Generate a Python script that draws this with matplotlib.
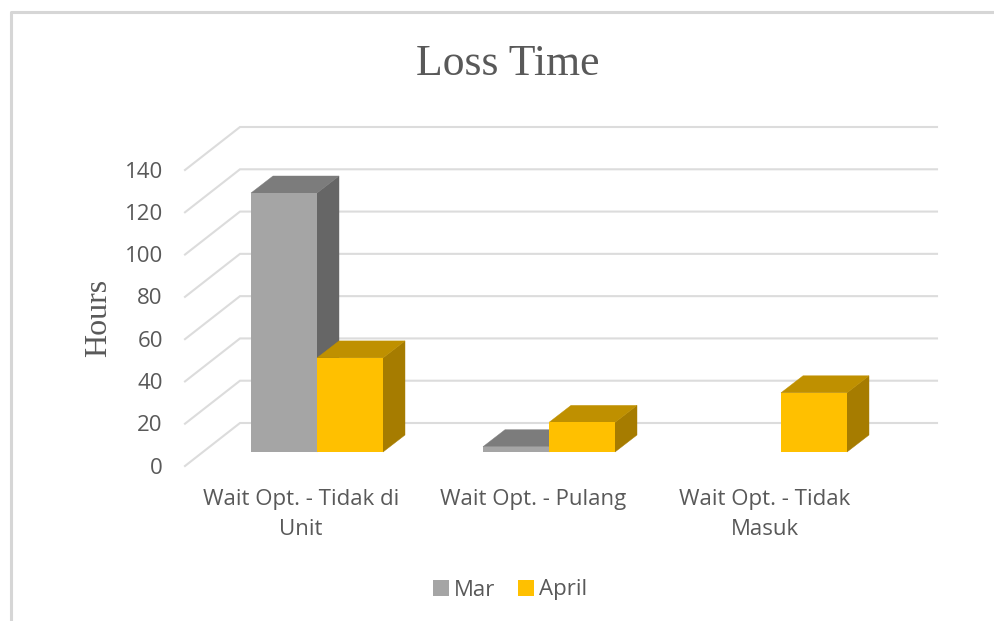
import matplotlib
matplotlib.use("Agg")
import matplotlib.pyplot as plt
from matplotlib.patches import Polygon, Patch
from matplotlib.lines import Line2D
from matplotlib.transforms import ScaledTranslation

categories = ["Wait Opt. - Tidak di\nUnit", "Wait Opt. - Pulang", "Wait Opt. - Tidak\nMasuk"]
mar = [122.5, 2.5, 0]
april = [44.5, 14, 28]
value_ticks = [0, 20, 40, 60, 80, 100, 120, 140]

W, H = 995, 621
GREY = "#595959"
fig = plt.figure(figsize=(W / 100, H / 100), dpi=100, facecolor="white")

def px_axes(left, right, top, bottom):
    a = fig.add_axes([left / W, 1 - bottom / H, (right - left) / W, (bottom - top) / H])
    a.patch.set_alpha(0)
    for s in a.spines.values():
        s.set_visible(False)
    return a

# value axis: front edge of the floor, 0 at y=466 px, 140 at y=170 px
PX_PER_UNIT = 296 / 140
ax_val = px_axes(185, 937, 170, 466)
ax_val.set_ylim(0, 140)
ax_val.set_xlim(185, 937)
ax_val.set_xticks([])
ax_val.set_yticks(value_ticks)
ax_val.tick_params(axis="y", length=0, pad=16, labelsize=16, labelcolor=GREY)
for lab in ax_val.get_yticklabels():
    lab.set_family("Open Sans")
    lab.set_verticalalignment("center")
    lab.set_transform(lab.get_transform() + ScaledTranslation(0, -2 / 100, fig.dpi_scale_trans))
ax_val.set_ylabel("Hours", family="Liberation Serif", fontsize=23, color=GREY, labelpad=8)

# depth of the wall/floor in value units and pixels
WALL_X, WALL_DY = 240, 43 / PX_PER_UNIT
for v in value_ticks:
    ax_val.plot([185, WALL_X, 937], [v, v + WALL_DY, v + WALL_DY], color="#dcdcdc", lw=1.5,
                clip_on=False, solid_joinstyle="miter", zorder=1)

# bars: front plane, baseline at y=452 px, group spacing 232 px, group centre at x=317 px
XPX = 232
ax_bar = px_axes(185, 937, 452 - 140 * PX_PER_UNIT, 452)
ax_bar.set_ylim(0, 140)
ax_bar.set_xlim((185 - 317) / XPX, (937 - 317) / XPX)
ax_bar.set_yticks([])
BAR_W = 66 / XPX
DX, DY = 22 / XPX, 17 / PX_PER_UNIT

def draw_bars(values, offset, front, top, side, z):
    for i, v in enumerate(values):
        if v <= 0:
            continue
        x0 = i + offset
        x1 = x0 + BAR_W
        ax_bar.add_patch(Polygon([(x1, 0), (x1 + DX, DY), (x1 + DX, v + DY), (x1, v)],
                                 facecolor=side, edgecolor=side, lw=0.3, zorder=z, clip_on=False))
        ax_bar.add_patch(Polygon([(x0, v), (x0 + DX, v + DY), (x1 + DX, v + DY), (x1, v)],
                                 facecolor=top, edgecolor=top, lw=0.3, zorder=z, clip_on=False))
        ax_bar.bar(x0, v, width=BAR_W, align="edge", color=front, zorder=z + 0.1, clip_on=False)

draw_bars(mar, -BAR_W, "#a5a5a5", "#7c7c7c", "#666666", 2)
draw_bars(april, 0, "#ffc000", "#bf9000", "#a67c00", 3)

ax_bar.set_xticks([i - 16 / XPX for i in range(len(categories))])
ax_bar.set_xticklabels(categories, family="Open Sans", fontsize=16, color=GREY, linespacing=1.6)
ax_bar.tick_params(axis="x", length=0, pad=26.5)

fig.text(508 / W, 1 - 64 / H, "Loss Time", family="Liberation Serif", fontsize=31.5, color=GREY,
         ha="center", va="center")

handles = [Patch(facecolor="#a5a5a5", label="Mar"), Patch(facecolor="#ffc000", label="April")]
fig.legend(handles=handles, loc="center", bbox_to_anchor=(510 / W, 1 - 590 / H), ncol=2, frameon=False,
           prop={"family": "Open Sans", "size": 16}, labelcolor=GREY, handlelength=0.72, handleheight=0.72,
           handletextpad=0.22, columnspacing=1.0)

# outer frame of the screenshot
fig.add_artist(Line2D([11 / W, 11 / W, 1], [0, 1 - 12 / H, 1 - 12 / H], color="#d6d6d6", lw=2.2,
                      transform=fig.transFigure))

fig.savefig("out.png", dpi=100)
